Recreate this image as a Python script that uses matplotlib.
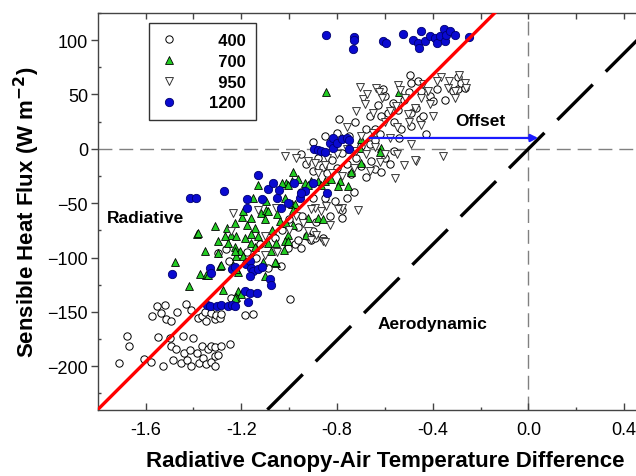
import matplotlib
matplotlib.use("Agg")
import matplotlib.pyplot as plt
from matplotlib.ticker import MultipleLocator

plt.rcParams['font.family'] = ['Liberation Sans', 'DejaVu Sans']

# ---- data -------------------------------------------------------------
# series 400 (open circles)
pts400 = [
    (-1.712, -197), (-1.676, -172), (-1.670, -181), (-1.606, -193), (-1.576, -196),
    (-1.572, -154), (-1.551, -145), (-1.548, -173), (-1.534, -151), (-1.527, -200),
    (-1.517, -144), (-1.513, -157), (-1.499, -174), (-1.495, -158), (-1.492, -181),
    (-1.485, -194), (-1.468, -150), (-1.471, -184), (-1.453, -197), (-1.443, -172),
    (-1.440, -188), (-1.430, -143), (-1.428, -194), (-1.415, -185), (-1.410, -148),
    (-1.408, -200), (-1.400, -174), (-1.387, -188), (-1.380, -156), (-1.378, -197),
    (-1.366, -154), (-1.366, -181), (-1.360, -192), (-1.353, -150), (-1.346, -198),
    (-1.346, -158), (-1.339, -184), (-1.328, -151), (-1.325, -181), (-1.325, -196),
    (-1.311, -182), (-1.311, -191), (-1.308, -200), (-1.310, -157), (-1.304, -153),
    (-1.297, -190), (-1.290, -156), (-1.283, -181), (-1.283, -152), (-1.248, -180),
    (-1.241, -137), (-1.186, -153), (-1.150, -152),
    (-1.297, -96), (-1.265, -92), (-1.250, -103), (-1.175, -95), (-1.140, -100),
    (-1.120, -88), (-1.090, -110), (-1.032, -108), (-1.004, -91), (-0.976, -88),
    (-0.950, -91), (-0.907, -84), (-0.925, -80), (-0.995, -138), (-1.060, -82),
    (-1.030, -75), (-1.000, -65), (-0.965, -72), (-0.945, -62), (-0.900, -76),
    (-0.893, -82), (-0.962, -84), (-0.858, -82), (-0.886, -67), (-0.830, -62),
    (-0.780, -56), (-0.780, -64), (-0.810, -48), (-0.760, -45), (-0.850, -45),
    (-0.900, -45), (-0.950, -40), (-0.730, -40),
    (-0.950, -5), (-0.930, -14), (-0.900, -20), (-0.880, -8), (-0.860, -17),
    (-0.840, -22), (-0.820, -10), (-0.800, -18), (-0.780, -4), (-0.760, -14),
    (-0.740, -23), (-0.720, -8), (-0.700, -16), (-0.680, -26), (-0.659, -11),
    (-0.640, -19), (-0.614, -21), (-0.600, -8), (-0.660, 4), (-0.700, 3),
    (-0.750, 12), (-0.800, 15), (-0.850, 12), (-0.900, 6), (-0.620, 14),
    (-0.580, -14), (-0.560, -2), (-0.426, 14), (-0.790, 27), (-0.726, 25),
    (-0.680, 18), (-0.640, 8),
    (-0.607, 55), (-0.598, 49), (-0.496, 68), (-0.489, 61), (-0.461, 62),
    (-0.447, 53), (-0.412, 49), (-0.398, 44), (-0.454, 27), (-0.489, 33),
    (-0.545, 36), (-0.566, 42), (-0.586, 33), (-0.614, 30), (-0.642, 18),
    (-0.531, 18), (-0.489, 21), (-0.294, 66), (-0.294, 55), (-0.315, 53),
    (-0.280, 61), (-0.266, 56), (-0.560, 25), (-0.520, 45), (-0.500, 52),
    (-0.540, 10), (-0.660, 30), (-0.630, 40), (-0.470, 38), (-0.440, 30),
    (-0.380, 55), (-0.350, 45),
]

# series 700 (filled triangles)
pts700 = [
    (-0.844, 52), (-0.540, 52),
    (-1.132, -33), (-1.197, -63), (-1.192, -57), (-1.311, -71), (-1.258, -73),
    (-1.387, -78), (-1.178, -70), (-1.158, -64), (-1.116, -59), (-1.095, -56),
    (-1.095, -48), (-1.088, -57), (-1.100, -65), (-1.144, -73), (-1.241, -79),
    (-1.220, -80), (-1.186, -82), (-1.011, -31), (-0.983, -21), (-0.990, -30),
    (-0.962, -28), (-0.935, -31), (-0.907, -30), (-0.879, -30), (-0.851, -30),
    (-0.823, -28), (-0.789, -30), (-0.753, -34), (-0.795, -34), (-0.865, -33),
    (-0.920, -33), (-1.029, -31), (-1.004, -33), (-1.018, -45), (-0.990, -51),
    (-0.976, -51), (-0.983, -56), (-0.920, -64), (-0.879, -64), (-0.858, -65),
    (-1.011, -68), (-0.983, -70), (-1.004, -79), (-1.018, -85), (-0.928, -79),
    (-0.780, 10), (-0.700, 9), (-0.705, 1), (-0.614, 1), (-0.698, -13),
    (-0.621, -3), (-0.740, -21),
    (-1.353, -94), (-1.297, -96), (-1.290, -108), (-1.346, -116), (-1.255, -87),
    (-1.227, -90), (-1.206, -94), (-1.220, -99), (-1.192, -99), (-1.186, -104),
    (-1.234, -107), (-1.213, -113), (-1.158, -87), (-1.144, -90), (-1.088, -87),
    (-1.053, -87), (-1.074, -94), (-1.109, -104), (-1.102, -117), (-1.053, -105),
    (-1.004, -85), (-1.276, -130), (-1.213, -131), (-1.200, -134), (-1.220, -136),
    (-1.477, -104), (-1.420, -126), (-1.374, -115), (-1.380, -77), (-1.297, -85),
    (-1.283, -107), (-1.227, -137), (-1.060, -104), (-1.021, -93), (-1.227, -94),
    (-1.220, -111), (-1.341, -116), (-1.270, -80), (-1.160, -78), (-1.130, -80),
    (-1.070, -75), (-1.040, -66), (-1.050, -60), (-1.227, -68), (-1.150, -45),
]

# series 950 (open inverted triangles)
pts950 = [
    (-0.705, 57), (-0.691, 46), (-0.673, 50), (-0.684, 41), (-0.635, 56),
    (-0.625, 52), (-0.610, 47), (-0.580, 35), (-0.545, 59), (-0.535, 54),
    (-0.517, 47), (-0.552, 39), (-0.503, 32), (-0.475, 38), (-0.447, 47),
    (-0.419, 53), (-0.412, 41), (-0.364, 66), (-0.336, 56), (-0.330, 62),
    (-0.308, 53), (-0.308, 47), (-0.266, 61), (-0.259, 56), (-0.290, 68),
    (-0.600, 25), (-0.650, 33), (-0.720, 35), (-0.550, 20), (-0.500, 25),
    (-0.450, 22), (-0.400, 30), (-0.380, 62), (-0.440, 60), (-0.760, 20),
    (-0.489, 4), (-0.468, -11), (-0.356, -7), (-0.559, -27), (-0.475, -10),
    (-0.600, -5), (-0.640, 2), (-0.680, -5), (-0.720, -2), (-0.760, 0),
    (-0.800, -5), (-0.840, -8), (-0.893, -13), (-0.851, -15), (-0.920, -11),
    (-0.970, -8), (-1.018, -7), (-0.730, -18), (-0.660, -20), (-0.620, -12),
    (-0.550, -5), (-0.520, -15), (-0.580, 10), (-0.700, 12), (-0.650, 15),
    (-0.820, -22), (-0.880, -22), (-0.780, -25),
    (-0.712, -56), (-0.780, -54), (-0.795, -55), (-0.844, -53), (-0.865, -57),
    (-0.893, -54), (-0.907, -55), (-0.920, -76), (-0.886, -79), (-0.858, -85),
    (-0.907, -84), (-0.851, -86), (-1.053, -54), (-1.130, -56), (-1.234, -59),
    (-1.241, -76), (-0.970, -62), (-1.000, -75), (-1.050, -95), (-1.100, -98),
    (-0.830, -70), (-0.940, -68), (-1.100, -80),
]

# series 1200 (filled circles)
pts1200 = [
    (-0.845, 105), (-0.727, 103), (-0.730, 100), (-0.735, 92), (-0.607, 99),
    (-0.595, 97), (-0.524, 106), (-0.482, 100), (-0.462, 97), (-0.458, 93),
    (-0.447, 108), (-0.433, 99), (-0.412, 104), (-0.392, 102), (-0.384, 97),
    (-0.371, 104), (-0.352, 110), (-0.350, 99), (-0.343, 105), (-0.329, 108),
    (-0.305, 105), (-0.250, 103),
    (-0.895, 0), (-0.880, -1), (-0.865, -2), (-0.850, -3), (-0.830, 5),
    (-0.815, 10), (-0.815, 1), (-0.800, 5), (-0.780, 9), (-0.760, 10),
    (-0.750, 8), (-0.750, 0),
    (-1.415, -45), (-1.388, -45), (-1.272, -39), (-1.178, -46), (-1.178, -54),
    (-1.130, -24), (-1.115, -46), (-1.087, -37), (-1.066, -31), (-1.050, -45),
    (-1.042, -38), (-1.035, -54), (-1.006, -50), (-0.980, -31), (-0.935, -39),
    (-0.900, -31), (-0.956, -45), (-0.950, -41), (-0.840, -41),
    (-1.490, -115), (-1.330, -110), (-1.325, -114), (-1.240, -111), (-1.225, -109),
    (-1.180, -106), (-1.165, -103), (-1.160, -110), (-1.150, -112), (-1.130, -111),
    (-1.115, -109), (-1.165, -117), (-1.080, -120), (-1.075, -125), (-1.185, -131),
    (-1.165, -133), (-1.135, -133), (-1.170, -141), (-1.345, -144), (-1.330, -145),
    (-1.300, -145), (-1.285, -144), (-1.255, -145), (-1.240, -144), (-1.225, -145),
]

# legend entries (leading spaces keep the numbers right-aligned)
series_labels = ["  400", "  700", "  950", "1200"]

# fitted radiative line and aerodynamic line (same slope)
slope = 220.0
radiative_intercept = 156.0
aerodynamic_intercept = 0.0
offset_level = 10.0

xticks = [-1.6, -1.2, -0.8, -0.4, 0.0, 0.4]
yticks = [-200, -150, -100, -50, 0, 50, 100]

# ---- figure -------------------------------------------------------------
fig = plt.figure(figsize=(6.36, 4.77), dpi=100)
ax = fig.add_axes([0.1536, 0.139, 0.903, 0.8317])
ax.set_xlim(-1.8, 0.6)
ax.set_ylim(-240, 125)

ax.axhline(0, color='#808080', lw=1.0, dashes=(10, 5), zorder=1)
ax.axvline(0, color='#808080', lw=1.0, dashes=(10, 5), zorder=1)

def split(pts):
    return [p[0] for p in pts], [p[1] for p in pts]

x, y = split(pts400)
ax.scatter(x, y, s=28, marker='o', facecolor='white', edgecolor='black',
           linewidth=0.7, zorder=3, label=series_labels[0])
x, y = split(pts700)
ax.scatter(x, y, s=32, marker='^', facecolor='#22cc22', edgecolor='black',
           linewidth=0.6, zorder=4, label=series_labels[1])
x, y = split(pts950)
ax.scatter(x, y, s=32, marker='v', facecolor='white', edgecolor='#333333',
           linewidth=0.7, zorder=5, label=series_labels[2])
x, y = split(pts1200)
ax.scatter(x, y, s=36, marker='o', facecolor='#0a0ad0', edgecolor='#000070',
           linewidth=0.6, zorder=6, label=series_labels[3])

ax.axline((0, radiative_intercept), slope=slope, color='#ff0000', lw=2.4, zorder=7)
ax.axline((0, aerodynamic_intercept), slope=slope, color='black', lw=2.4,
          dashes=(15, 5.5), zorder=7)

x_start = (offset_level - radiative_intercept) / slope
x_end = (offset_level - aerodynamic_intercept) / slope
ax.annotate('', xy=(x_end - 0.005, offset_level), xytext=(x_start, offset_level),
            arrowprops=dict(arrowstyle='-|>', color='#1a1aff', lw=1.6,
                            mutation_scale=11, shrinkA=0, shrinkB=0),
            zorder=8)

ax.text(-1.76, -63, 'Radiative', fontsize=12.5, fontweight='bold', ha='left', va='center')
ax.text(-0.20, 26, 'Offset', fontsize=12.5, fontweight='bold', ha='center', va='center')
ax.text(-0.40, -161, 'Aerodynamic', fontsize=12.5, fontweight='bold', ha='center', va='center')

# axes styling
ax.spines['right'].set_visible(False)
for s in ['left', 'bottom', 'top']:
    ax.spines[s].set_color('#444444')
    ax.spines[s].set_linewidth(1.0)

ax.set_xticks(xticks)
ax.set_xticklabels([f"{t:.1f}" for t in xticks])
ax.set_yticks(yticks)
ax.xaxis.set_minor_locator(MultipleLocator(0.2))
ax.yaxis.set_minor_locator(MultipleLocator(25))
ax.tick_params(axis='x', which='major', direction='in', length=5, width=1,
               pad=8, labelsize=13, colors='#444444', labelcolor='black')
ax.tick_params(axis='x', which='minor', direction='in', length=2.5, width=1,
               colors='#444444')
ax.tick_params(axis='y', which='major', direction='out', length=5, width=1,
               pad=2, labelsize=13, colors='#444444', labelcolor='black')
ax.tick_params(axis='y', which='minor', direction='in', length=2.5, width=1,
               colors='#444444')

top = ax.secondary_xaxis('top')
top.set_xticks([-1.6, -1.4, -1.2, -1.0, -0.8, -0.6, -0.4, -0.2, 0.0, 0.2, 0.4])
top.tick_params(direction='in', length=4, width=1, labeltop=False, colors='#444444')
top.spines['top'].set_visible(False)

ax.set_xlabel('Radiative Canopy-Air Temperature Difference', fontsize=16,
              fontweight='bold', labelpad=9)
ax.set_ylabel('Sensible Heat Flux (W m$^{\\mathbf{-2}}$)', fontsize=16,
              fontweight='bold', labelpad=4)

leg = ax.legend(loc='upper left', bbox_to_anchor=(0.089, 0.975), borderaxespad=0,
                frameon=True, fancybox=False, edgecolor='#333333', framealpha=1,
                prop={'weight': 'bold', 'size': 12}, handletextpad=1.8,
                labelspacing=0.35, borderpad=0.6, handlelength=1.2,
                scatteryoffsets=[0.5])
leg.get_frame().set_linewidth(1.0)
leg.set_zorder(10)

fig.savefig('out.png', dpi=100)
